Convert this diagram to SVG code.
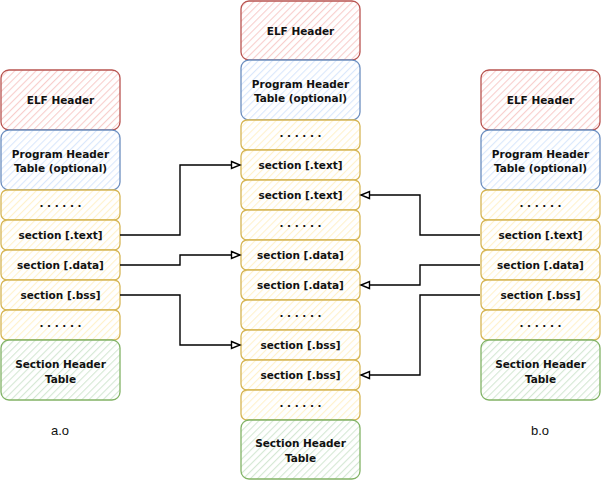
<svg xmlns="http://www.w3.org/2000/svg" width="601" height="481" viewBox="0 0 601 481">
<defs>
<pattern id="hr" width="5" height="5" patternUnits="userSpaceOnUse" patternTransform="rotate(45)"><rect width="5" height="5" fill="#fff"/><line x1="0" y1="0" x2="0" y2="5" stroke="#f8cecc" stroke-width="2.2"/></pattern>
<pattern id="hb" width="5" height="5" patternUnits="userSpaceOnUse" patternTransform="rotate(45)"><rect width="5" height="5" fill="#fff"/><line x1="0" y1="0" x2="0" y2="5" stroke="#dae8fc" stroke-width="2.2"/></pattern>
<pattern id="hy" width="5" height="5" patternUnits="userSpaceOnUse" patternTransform="rotate(45)"><rect width="5" height="5" fill="#fff"/><line x1="0" y1="0" x2="0" y2="5" stroke="#fff2cc" stroke-width="2.2"/></pattern>
<pattern id="hg" width="5" height="5" patternUnits="userSpaceOnUse" patternTransform="rotate(45)"><rect width="5" height="5" fill="#fff"/><line x1="0" y1="0" x2="0" y2="5" stroke="#d5e8d4" stroke-width="2.2"/></pattern>
<marker id="arr" markerWidth="12" markerHeight="12" refX="10" refY="5" orient="auto" markerUnits="userSpaceOnUse"><path d="M1.5,1.5 L10,5 L1.5,8.5 Z" fill="#fff" stroke="#000" stroke-width="1.4"/></marker>
</defs>
<style>
.r{fill:url(#hr);stroke:#b85450;stroke-width:1.3}
.b{fill:url(#hb);stroke:#6c8ebf;stroke-width:1.3}
.y{fill:url(#hy);stroke:#d6b656;stroke-width:1.3}
.g{fill:url(#hg);stroke:#82b366;stroke-width:1.3}
text{font-family:"DejaVu Sans","Liberation Sans",sans-serif;font-size:10.5px;font-weight:bold;fill:#111;text-anchor:middle}
.lbl{font-weight:normal;font-size:13px;font-family:"Liberation Sans",sans-serif}
.c{fill:none;stroke:#000;stroke-width:1.4;marker-end:url(#arr)}
</style>

<g id="a_o">
<g id="a_elf"><rect class="r" x="1" y="70" width="119" height="60" rx="8"/><text x="60.5" y="104">ELF Header</text></g>
<g id="a_pht"><rect class="b" x="1" y="130" width="119" height="60" rx="8"/><text x="60.5" y="158">Program Header</text><text x="60.5" y="172">Table (optional)</text></g>
<g id="a_d1"><rect class="y" x="1" y="190" width="119" height="30" rx="6"/><text x="60.5" y="207">. . . . . .</text></g>
<g id="a_text"><rect class="y" x="1" y="220" width="119" height="30" rx="6"/><text x="60.5" y="239">section [.text]</text></g>
<g id="a_data"><rect class="y" x="1" y="250" width="119" height="30" rx="6"/><text x="60.5" y="269">section [.data]</text></g>
<g id="a_bss"><rect class="y" x="1" y="280" width="119" height="30" rx="6"/><text x="60.5" y="299">section [.bss]</text></g>
<g id="a_d2"><rect class="y" x="1" y="310" width="119" height="30" rx="6"/><text x="60.5" y="327">. . . . . .</text></g>
<g id="a_sht"><rect class="g" x="1" y="340" width="119" height="60" rx="8"/><text x="60.5" y="368">Section Header</text><text x="60.5" y="383">Table</text></g>
<text class="lbl" x="60" y="435">a.o</text>
</g>

<g id="out">
<g id="o_elf"><rect class="r" x="241" y="1" width="119" height="59" rx="8"/><text x="300.5" y="35">ELF Header</text></g>
<g id="o_pht"><rect class="b" x="241" y="60" width="119" height="60" rx="8"/><text x="300.5" y="88">Program Header</text><text x="300.5" y="102">Table (optional)</text></g>
<g id="o_d1"><rect class="y" x="241" y="120" width="119" height="30" rx="6"/><text x="300.5" y="137">. . . . . .</text></g>
<g id="o_t1"><rect class="y" x="241" y="150" width="119" height="30" rx="6"/><text x="300.5" y="169">section [.text]</text></g>
<g id="o_t2"><rect class="y" x="241" y="180" width="119" height="30" rx="6"/><text x="300.5" y="199">section [.text]</text></g>
<g id="o_d2"><rect class="y" x="241" y="210" width="119" height="30" rx="6"/><text x="300.5" y="227">. . . . . .</text></g>
<g id="o_da1"><rect class="y" x="241" y="240" width="119" height="30" rx="6"/><text x="300.5" y="259">section [.data]</text></g>
<g id="o_da2"><rect class="y" x="241" y="270" width="119" height="30" rx="6"/><text x="300.5" y="289">section [.data]</text></g>
<g id="o_d3"><rect class="y" x="241" y="300" width="119" height="30" rx="6"/><text x="300.5" y="317">. . . . . .</text></g>
<g id="o_b1"><rect class="y" x="241" y="330" width="119" height="30" rx="6"/><text x="300.5" y="349">section [.bss]</text></g>
<g id="o_b2"><rect class="y" x="241" y="360" width="119" height="30" rx="6"/><text x="300.5" y="379">section [.bss]</text></g>
<g id="o_d4"><rect class="y" x="241" y="390" width="119" height="30" rx="6"/><text x="300.5" y="407">. . . . . .</text></g>
<g id="o_sht"><rect class="g" x="241" y="420" width="119" height="59" rx="8"/><text x="300.5" y="447">Section Header</text><text x="300.5" y="462">Table</text></g>
</g>

<g id="b_o">
<g id="b_elf"><rect class="r" x="481" y="70" width="119" height="60" rx="8"/><text x="540.5" y="104">ELF Header</text></g>
<g id="b_pht"><rect class="b" x="481" y="130" width="119" height="60" rx="8"/><text x="540.5" y="158">Program Header</text><text x="540.5" y="172">Table (optional)</text></g>
<g id="b_d1"><rect class="y" x="481" y="190" width="119" height="30" rx="6"/><text x="540.5" y="207">. . . . . .</text></g>
<g id="b_text"><rect class="y" x="481" y="220" width="119" height="30" rx="6"/><text x="540.5" y="239">section [.text]</text></g>
<g id="b_data"><rect class="y" x="481" y="250" width="119" height="30" rx="6"/><text x="540.5" y="269">section [.data]</text></g>
<g id="b_bss"><rect class="y" x="481" y="280" width="119" height="30" rx="6"/><text x="540.5" y="299">section [.bss]</text></g>
<g id="b_d2"><rect class="y" x="481" y="310" width="119" height="30" rx="6"/><text x="540.5" y="327">. . . . . .</text></g>
<g id="b_sht"><rect class="g" x="481" y="340" width="119" height="60" rx="8"/><text x="540.5" y="368">Section Header</text><text x="540.5" y="383">Table</text></g>
<text class="lbl" x="540" y="435">b.o</text>
</g>

<g id="connectors">
<path class="c" d="M120,235 H180 V165 H240"/>
<path class="c" d="M120,265 H180 V255 H240"/>
<path class="c" d="M120,295 H180 V345 H240"/>
<path class="c" d="M480,235 H420 V195 H361"/>
<path class="c" d="M480,265 H420 V285 H361"/>
<path class="c" d="M480,295 H420 V375 H361"/>
</g>
</svg>
